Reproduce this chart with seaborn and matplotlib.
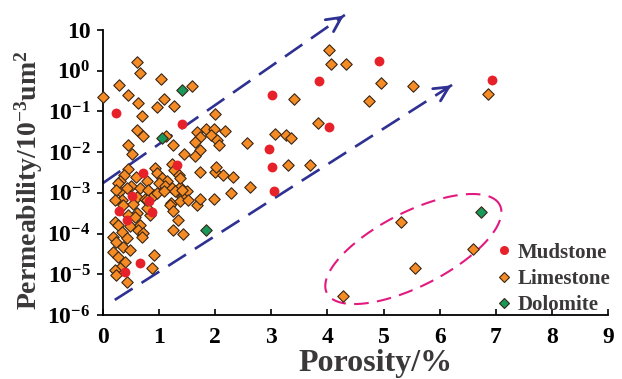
import numpy as np
import pandas as pd
import matplotlib
matplotlib.use("Agg")
import matplotlib.pyplot as plt
from matplotlib.lines import Line2D
from matplotlib.ticker import FixedLocator, FuncFormatter, NullLocator
import seaborn as sns

# ---------------- data ----------------
lime_por = [0.00, 0.60, 0.66, 0.29, 1.03, 1.58, 0.45, 0.62, 0.96, 1.09, 1.27, 0.69,
            0.60, 0.72, 0.44, 0.51, 1.24, 1.45, 2.00, 1.67, 1.84, 1.98, 2.17, 1.73,
            1.92, 2.03, 2.06, 1.64, 1.72, 1.64, 2.56, 3.07, 3.26, 3.35, 3.41, 3.29,
            3.68, 3.84, 1.12, 4.03, 4.06, 4.33, 4.95, 5.52, 4.74, 6.86, 5.31, 6.60,
            5.56, 4.28, 2.62, 2.28, 1.97,
            0.45, 0.37, 0.58, 0.31, 0.49, 0.93, 0.96, 1.23, 1.26, 1.35, 1.05, 1.14,
            0.99, 1.11, 1.23, 1.38, 1.37, 1.49, 1.40, 0.78, 0.66, 0.81, 0.60, 0.75,
            0.90, 0.30, 0.33, 1.22, 1.37, 1.52, 1.67, 1.73, 1.73, 2.00, 2.02, 2.14,
            2.32, 0.27, 0.24, 0.42, 0.21, 0.36, 0.54, 0.60, 0.44, 0.21, 0.27, 0.48,
            0.33, 0.18, 0.24, 0.42, 0.36, 0.48, 0.18, 0.27, 0.39, 0.30, 0.21, 0.24,
            0.42, 0.90, 0.87, 0.66, 0.63, 0.72, 0.69, 0.57, 0.84, 0.78, 0.78, 0.96,
            1.08, 1.28, 1.40, 1.19, 1.25, 1.34, 1.25, 1.43]
lime_perm = [0.23, 1.6, 0.87, 0.45, 0.62, 0.42, 0.25, 0.16, 0.13, 0.20, 0.135, 0.078,
             0.035, 0.025, 0.015, 0.0089, 0.015, 0.0089, 0.085, 0.032, 0.038, 0.037, 0.033, 0.024,
             0.026, 0.020, 0.015, 0.018, 0.011, 0.0081, 0.017, 0.028, 0.026, 0.022, 0.20, 0.0047,
             0.0047, 0.052, 0.025, 3.3, 1.45, 1.5, 0.51, 0.42, 0.18, 0.27, 1.9e-4, 4.2e-5,
             1.4e-5, 2.9e-6, 1.4e-3, 1.0e-3, 7.2e-4,
             3.8e-3, 2.8e-3, 2.5e-3, 1.9e-3, 1.5e-3, 4.0e-3, 3.0e-3, 5.2e-3, 3.6e-3, 2.8e-3, 2.3e-3, 2.0e-3,
             1.7e-3, 1.5e-3, 1.3e-3, 1.4e-3, 2.3e-3, 1.1e-3, 7.9e-4, 1.9e-3, 1.3e-3, 1.2e-3, 7.9e-4, 7.2e-4,
             8.9e-4, 1.1e-3, 6.6e-4, 5.5e-4, 6.3e-4, 6.6e-4, 5.0e-4, 7.2e-4, 3.3e-3, 3.3e-3, 4.4e-3, 2.8e-3,
             2.5e-3, 1.7e-3, 1.2e-3, 1.3e-3, 6.6e-4, 5.0e-4, 5.2e-4, 3.2e-4, 2.8e-4, 1.95e-4, 1.6e-4, 1.5e-4,
             1.1e-4, 8.3e-5, 6.3e-5, 7.6e-5, 4.8e-5, 3.9e-5, 3.5e-5, 2.7e-5, 2.0e-5, 1.4e-5, 1.26e-5, 9.5e-6,
             6.6e-6, 3.0e-5, 1.4e-5, 1.6e-4, 1.2e-4, 1.05e-4, 8.3e-5, 2.5e-4, 2.8e-4, 4.2e-4, 6.6e-4, 9.8e-4,
             1.1e-3, 1.1e-3, 1.2e-3, 5.0e-4, 3.5e-4, 2.1e-4, 1.2e-4, 1.0e-4]

mud_por = [0.24, 1.40, 1.31, 0.72, 0.51, 0.29, 0.82, 0.88, 0.42, 0.66, 0.40,
           3.04, 2.96, 3.02, 3.02, 3.85, 4.03, 4.92, 6.93]
mud_perm = [0.093, 0.050, 4.7e-3, 3.0e-3, 8.3e-4, 3.5e-4, 6.3e-4, 3.3e-4, 2.1e-4, 1.9e-5, 1.15e-5,
            1.1e-3, 0.012, 4.3e-3, 0.25, 0.57, 0.041, 1.74, 0.59]

dol_por = [1.40, 1.06, 1.84, 6.74]
dol_perm = [0.34, 0.022, 1.2e-4, 3.3e-4]

lith_names = ["Mudstone", "Limestone", "Dolomite"]
x_ticks = [0, 1, 2, 3, 4, 5, 6, 7, 8, 9]
y_tick_exps = [-6, -5, -4, -3, -2, -1, 0, 1]

df = pd.concat([
    pd.DataFrame({"Porosity": mud_por, "Permeability": mud_perm, "Lith": lith_names[0]}),
    pd.DataFrame({"Porosity": lime_por, "Permeability": lime_perm, "Lith": lith_names[1]}),
    pd.DataFrame({"Porosity": dol_por, "Permeability": dol_perm, "Lith": lith_names[2]}),
], ignore_index=True)

# ---------------- style ----------------
sns.set_theme(style="white")
plt.rcParams["font.family"] = ["Liberation Serif", "DejaVu Serif"]
plt.rcParams["font.weight"] = "bold"
plt.rcParams["mathtext.fontset"] = "custom"
plt.rcParams["mathtext.rm"] = "Liberation Serif:bold"
plt.rcParams["mathtext.bf"] = "Liberation Serif:bold"
plt.rcParams["mathtext.it"] = "Liberation Serif:italic:bold"
plt.rcParams["mathtext.default"] = "rm"

RED = "#e62129"
ORANGE = "#f48b25"
GREEN = "#17995a"
EDGE = "#3a2616"
BLUE = "#2e3192"
MAGENTA = "#e2197f"
TXT = "#3a3838"

fig = plt.figure(figsize=(6.22, 3.79), dpi=100)
ax = fig.add_axes([0.1656, 0.1689, 0.812, 0.752])

styles = {
    "Mudstone": dict(marker="o", color=RED, edgecolor=RED, linewidth=0, s=50),
    "Limestone": dict(marker="D", color=ORANGE, edgecolor=EDGE, linewidth=0.8, s=34),
    "Dolomite": dict(marker="D", color=GREEN, edgecolor=EDGE, linewidth=0.8, s=34),
}
for name in ["Limestone", "Dolomite", "Mudstone"]:
    sub = df[df["Lith"] == name]
    sns.scatterplot(data=sub, x="Porosity", y="Permeability", ax=ax, legend=False,
                    zorder=3, clip_on=False, **styles[name])

ax.set_yscale("log")
ax.set_xlim(0, 9)
ax.set_ylim(1e-6, 10)

# ticks
ax.xaxis.set_major_locator(FixedLocator(x_ticks))
ax.yaxis.set_major_locator(FixedLocator([10.0 ** e for e in y_tick_exps]))
ax.yaxis.set_minor_locator(NullLocator())

def yfmt(v, pos):
    e = int(round(np.log10(v)))
    if e == 1:
        return "10"
    return r"$\mathbf{10^{%d}}$" % e

ax.yaxis.set_major_formatter(FuncFormatter(yfmt))
ax.tick_params(axis="x", direction="in", length=4, width=1.2, pad=9,
               labelsize=17, colors="black", bottom=True)
ax.tick_params(axis="y", direction="out", length=4, width=1.2, pad=5,
               labelsize=17, colors="black", left=True)
for lab in ax.get_xticklabels() + ax.get_yticklabels():
    lab.set_fontweight("bold")

for sp in ["top", "right"]:
    ax.spines[sp].set_visible(False)
for sp in ["left", "bottom"]:
    ax.spines[sp].set_color("black")
    ax.spines[sp].set_linewidth(1.3)

ax.set_xlabel("")
ax.set_ylabel("")
fig.text(0.603, 0.022, "Porosity/%", ha="center", va="baseline",
         fontsize=23, fontweight="bold", color=TXT)
fig.text(0.047, 0.525, r"Permeability/10$^{\mathbf{-3}}$um$^{\mathbf{2}}$", ha="center",
         va="center", rotation=90, fontsize=20, fontweight="bold", color=TXT)

# dashed trend arrows (in axis data space)
def dashed_arrow(x0, e0, x1, e1):
    ax.plot([x0, x1], [10 ** e0, 10 ** e1], color=BLUE, lw=1.9, dashes=(8, 4),
            clip_on=False, zorder=2, solid_capstyle="butt", dash_capstyle="butt")
    t = 0.97
    ax.annotate("", xy=(x1 + (x1 - x0) * 0.005, 10 ** (e1 + (e1 - e0) * 0.005)),
                xytext=(x0 + (x1 - x0) * t, 10 ** (e0 + (e1 - e0) * t)),
                arrowprops=dict(arrowstyle="->", color=BLUE, lw=2.0, mutation_scale=26),
                annotation_clip=False)

dashed_arrow(0.0, -2.76, 4.31, 1.37)
dashed_arrow(0.21, -5.63, 6.22, -0.35)

# dashed ellipse (pixel-shaped, converted to data space)
px_per_x = 56.1
px_per_dec = 40.7
cx, ce = 5.53, -4.38
a_px, b_px, th = 97.0, 37.0, np.deg2rad(27.0)
t = np.linspace(0, 2 * np.pi, 300)
dx = a_px * np.cos(th) * np.cos(t) - b_px * np.sin(th) * np.sin(t)
dy = a_px * np.sin(th) * np.cos(t) + b_px * np.cos(th) * np.sin(t)
ax.plot(cx + dx / px_per_x, 10 ** (ce + dy / px_per_dec), color=MAGENTA, lw=1.5,
        dashes=(7, 4), zorder=2, clip_on=False)

# legend
handles = [
    Line2D([], [], marker="o", linestyle="none", markerfacecolor=RED, markeredgewidth=0, markersize=6.5),
    Line2D([], [], marker="D", linestyle="none", markerfacecolor=ORANGE, markeredgecolor=EDGE,
           markeredgewidth=0.8, markersize=5.5),
    Line2D([], [], marker="D", linestyle="none", markerfacecolor=GREEN, markeredgecolor=EDGE,
           markeredgewidth=0.8, markersize=5.5),
]
leg = ax.legend(handles, lith_names, loc="upper left", bbox_to_anchor=(0.797, 0.36),
                bbox_transform=fig.transFigure, frameon=False, borderpad=0, borderaxespad=0,
                handlelength=0.8, handletextpad=0.25, labelspacing=0.3,
                prop={"family": "Liberation Serif", "weight": "bold", "size": 15})
for txt in leg.get_texts():
    txt.set_color(TXT)

fig.savefig("out.png", dpi=100)
